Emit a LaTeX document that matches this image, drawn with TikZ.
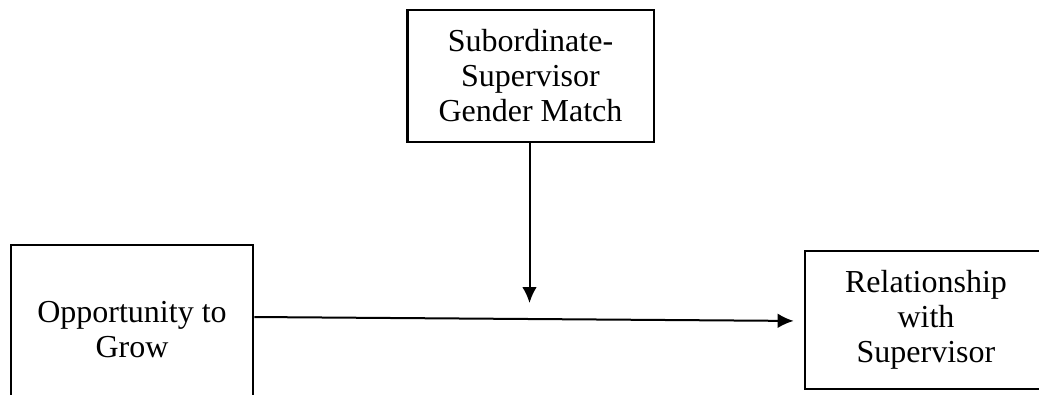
\documentclass[tikz,border=0pt]{standalone}
\usepackage{fontspec}
\setmainfont{Liberation Serif}
\usetikzlibrary{arrows.meta}

\begin{document}
\begin{tikzpicture}[x=0.75pt, y=-0.75pt,
  main/.style = {draw, line width=2pt, rectangle, align=center, inner sep=0pt,
                 font=\fontsize{24}{26.25}\selectfont},
  link/.style = {line width=1.5pt, -{Latex[length=12pt, width=11pt]}}]
  \useasboundingbox (0,0) rectangle (1039,394);
  \clip (0,0) rectangle (1039,394);
  \node[main, minimum width=185pt, minimum height=99pt] (match) at (530.5,76) {Subordinate-\\Supervisor\\Gender Match};
  \node[main, minimum width=181.5pt, minimum height=127.5pt] (grow) at (132,330) {Opportunity to\\Grow};
  \node[main, minimum width=181.5pt, minimum height=103.5pt] (rel) at (926,320) {Relationship\\with\\Supervisor};
  \coordinate (mid) at (529.5,303);
  \draw[link] (match.south -| mid) -- (mid);
  \draw[link, shorten >=7.5pt] ([yshift=9.75pt]grow.east) -- ([yshift=-0.75pt]rel.west);
\end{tikzpicture}
\end{document}
